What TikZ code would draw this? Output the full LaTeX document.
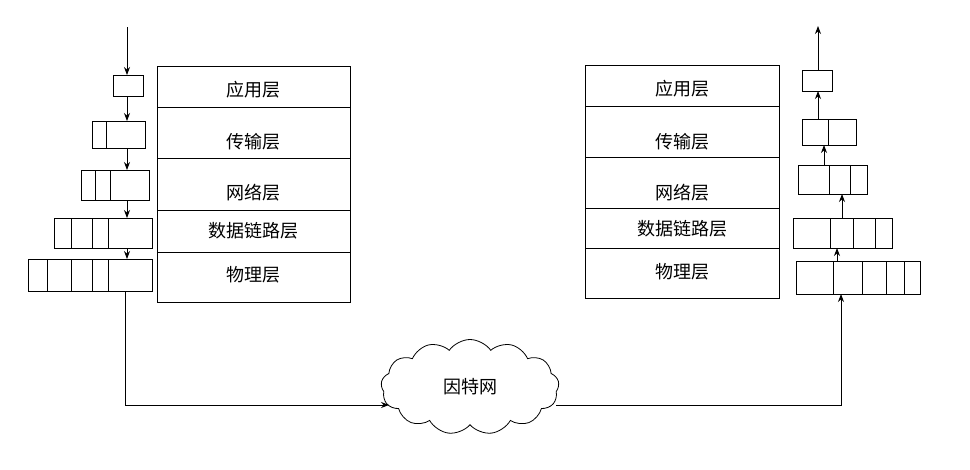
\documentclass[tikz,border=0pt]{standalone}
\usepackage{fontspec}
\newfontfamily\cjk{Noto Sans CJK SC}
\usetikzlibrary{shapes.symbols,arrows.meta}
\begin{document}
\begin{tikzpicture}[x=1pt,y=-1pt,line width=0.8pt,
  lay/.style={font=\cjk\fontsize{18}{21}\selectfont},
  arr/.style={-{Stealth[length=8pt,width=6pt]}},
  pk/.style={draw}]
\useasboundingbox (0,0) rectangle (970,469);
% left stack
\draw (157,66) rectangle (350,302);
\foreach \y in {107,158,210,252} \draw (157,\y) -- (350,\y);
\node[lay] (la) at (253,90) {应用层};
\node[lay] (lb) at (253,142) {传输层};
\node[lay] (lc) at (253,193) {网络层};
\node[lay] (ld) at (253,231) {数据链路层};
\node[lay] (le) at (253,275) {物理层};
% right stack
\draw (585,65) rectangle (779,298);
\foreach \y in {106,157,208,248} \draw (585,\y) -- (779,\y);
\node[lay] (ra) at (682,89) {应用层};
\node[lay] (rb) at (682,142) {传输层};
\node[lay] (rc) at (682,193) {网络层};
\node[lay] (rd) at (682,229) {数据链路层};
\node[lay] (re) at (682,272) {物理层};
% left packets
\draw (113,75) rectangle (143,96);
\draw (92,121) rectangle (145,148); \draw (106,121)--(106,148);
\draw (81,170) rectangle (149,200); \foreach \x in {95,110} \draw (\x,170)--(\x,200);
\draw (54,218) rectangle (152,248); \foreach \x in {71,92,108} \draw (\x,218)--(\x,248);
\draw (28,259) rectangle (152,291); \foreach \x in {47,71,92,108} \draw (\x,259)--(\x,291);
\coordinate (lin) at (127,27);
\draw[arr] (lin) -- (127,75);
\draw[arr] (127,96) -- (127,121);
\draw[arr] (127,148) -- (127,170);
\draw[arr] (127,200) -- (127,218);
\draw[arr] (127,248) -- (127,259);
% right packets
\draw (802,70) rectangle (832,91);
\draw (802,119) rectangle (856,145); \draw (828,119)--(828,145);
\draw (798,165) rectangle (867,194); \foreach \x in {829,850} \draw (\x,165)--(\x,194);
\draw (793,218) rectangle (892,248); \foreach \x in {830,853,875} \draw (\x,218)--(\x,248);
\draw (796,261) rectangle (920,294); \foreach \x in {833,862,886,904} \draw (\x,261)--(\x,294);
\coordinate (rout) at (818,26);
\draw[arr] (818,70) -- (rout);
\draw[arr] (818,119) -- (818,91);
\draw[arr] (824,165) -- (824,145);
\draw[arr] (842,218) -- (842,194);
\draw[arr] (837,261) -- (837,248);
% cloud
\node[cloud,draw,cloud puffs=13,cloud puff arc=110,aspect=1.9,minimum width=178pt,minimum height=95pt,inner sep=0pt,lay] (net) at (470,387) {因特网};
\coordinate (lc1) at (125,291);
\coordinate (lc2) at (125,405);
\coordinate (lc3) at (389,405);
\draw[arr] (lc1) -- (lc2) -- (lc3);
\coordinate (rc1) at (556,405);
\coordinate (rc2) at (841,405);
\draw[arr] (rc1) -- (rc2) -- (841,294);
\end{tikzpicture}
\end{document}
